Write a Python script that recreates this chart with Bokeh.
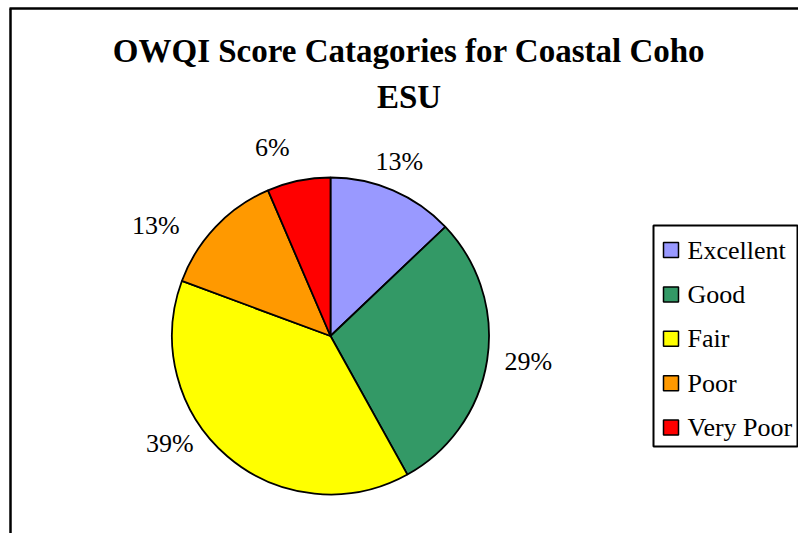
import math
from bokeh.plotting import figure
from bokeh.models import Range1d, ColumnDataSource
from bokeh.core.properties import value
from bokeh.embed import file_html
from bokeh.resources import INLINE

# ---- data ----
categories = ["Excellent", "Good", "Fair", "Poor", "Very Poor"]
counts = [4, 9, 12, 4, 2]
colors = ["#9999FF", "#339966", "#FFFF00", "#FF9900", "#FF0000"]
title_lines = ["OWQI Score Catagories for Coastal Coho", "ESU"]

# ---- layout (page pixel coordinates) ----
W, H = 798, 533
def Y(py):
    return H - py

p = figure(width=W, height=H, x_range=Range1d(0, W), y_range=Range1d(0, H),
           output_backend="svg", toolbar_location=None, min_border=0,
           x_axis_type=None, y_axis_type=None)
p.grid.visible = False
p.outline_line_color = None
p.background_fill_color = "white"
p.border_fill_color = "white"

SERIF = value("Liberation Serif")

# chart border (left and top visible)
p.segment(x0=[9, 10], y0=[Y(8), Y(8)], x1=[W, 10], y1=[Y(8), Y(H)],
          line_color="black", line_width=2.5)

# title
p.text(x=[408.5, 408.5], y=[Y(50), Y(96)], text=title_lines,
       text_font=SERIF, text_font_style="bold", text_font_size="33px",
       text_align="center", text_baseline="middle", text_color="black")

# pie
CX, CY, R = 330.0, Y(335.5), 158.5
total = sum(counts)
starts, ends, mids = [], [], []
cum = 0
for c in counts:
    a0 = math.pi / 2 - 2 * math.pi * cum / total
    cum += c
    a1 = math.pi / 2 - 2 * math.pi * cum / total
    starts.append(a0)
    ends.append(a1)
    mids.append((a0 + a1) / 2)

src = ColumnDataSource(dict(start=starts, end=ends, color=colors))
p.wedge(x=CX, y=CY, radius=R, start_angle="start", end_angle="end",
        direction="clock", fill_color="color", line_color="black",
        line_width=1.8, source=src)

# data labels
pcts = ["%d%%" % round(100 * c / total) for c in counts]
LR = 190
label_dx = [-6, 10, -37, -37, -20]
label_dy = [0, -3, -37, 20, -2]
lx = [CX + LR * math.cos(m) + dx for m, dx in zip(mids, label_dx)]
ly = [CY + LR * math.sin(m) - dy for m, dy in zip(mids, label_dy)]
p.text(x=lx, y=ly, text=pcts, text_font=SERIF, text_font_size="26px",
       text_align="center", text_baseline="middle", text_color="black")

# legend
p.quad(left=653, right=797, top=Y(225), bottom=Y(446),
       fill_color="white", line_color="black", line_width=2)
leg_y = [Y(249.5 + 44.4 * i) for i in range(len(categories))]
p.rect(x=[670.5] * len(categories), y=leg_y, width=15, height=15,
       fill_color=colors, line_color="black", line_width=1.5)
p.text(x=[687] * len(categories), y=leg_y, text=categories, text_font=SERIF,
       text_font_size="26px", text_align="left", text_baseline="middle",
       text_color="black")

open("out.html", "w").write(file_html(p, INLINE))
